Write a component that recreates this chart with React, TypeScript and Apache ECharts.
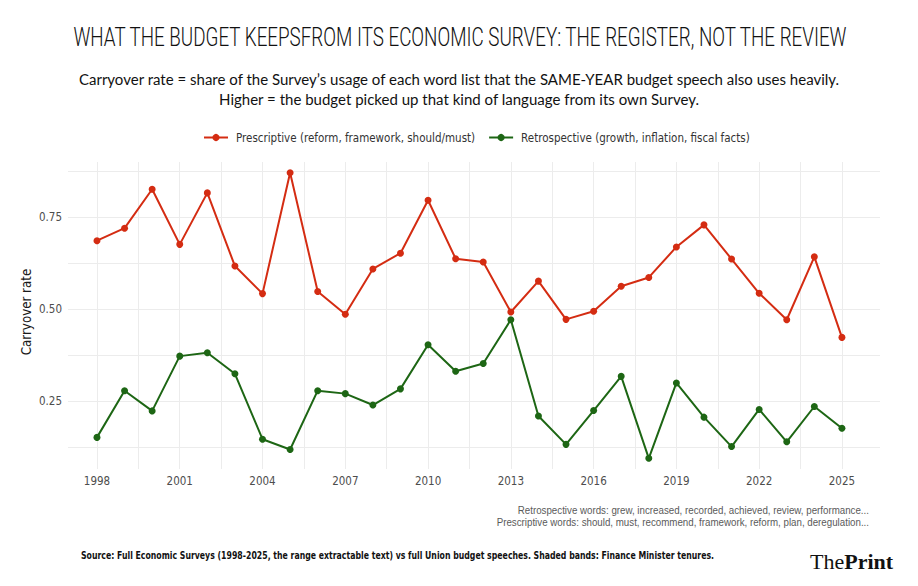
import React, { useEffect, useRef } from 'react'
import * as echarts from 'echarts'

const years = [
  1998, 1999, 2000, 2001, 2002, 2003, 2004, 2005, 2006, 2007, 2008, 2009, 2010, 2011,
  2012, 2013, 2014, 2015, 2016, 2017, 2018, 2019, 2020, 2021, 2022, 2023, 2024, 2025,
]
const prescriptive = [
  0.686, 0.72, 0.826, 0.676, 0.816, 0.617, 0.542, 0.871, 0.548, 0.486, 0.609, 0.652, 0.796, 0.637,
  0.628, 0.492, 0.576, 0.472, 0.494, 0.562, 0.586, 0.669, 0.729, 0.636, 0.543, 0.471, 0.642, 0.423,
]
const retrospective = [
  0.151, 0.278, 0.223, 0.372, 0.381, 0.324, 0.146, 0.118, 0.278, 0.27, 0.239, 0.283, 0.403, 0.331,
  0.352, 0.471, 0.209, 0.132, 0.224, 0.317, 0.094, 0.299, 0.206, 0.126, 0.227, 0.139, 0.235, 0.176,
]
const xLabels = [1998, 2001, 2004, 2007, 2010, 2013, 2016, 2019, 2022, 2025]
const xGrid = [
  1998, 1999.5, 2001, 2002.5, 2004, 2005.5, 2007, 2008.5, 2010, 2011.5, 2013, 2014.5, 2016,
  2017.5, 2019, 2020.5, 2022, 2023.5, 2025,
]
const yLabels = [0.25, 0.5, 0.75]
const yGrid = [0.125, 0.25, 0.375, 0.5, 0.625, 0.75, 0.875]

const NARROW = "'DejaVu Sans Condensed', 'Liberation Sans', sans-serif"

const title = 'WHAT THE BUDGET KEEPSFROM ITS ECONOMIC SURVEY: THE REGISTER, NOT THE REVIEW'
const sub1 =
  'Carryover rate = share of the Survey\u2019s usage of each word list that the SAME-YEAR budget speech also uses heavily.'
const sub2 = 'Higher = the budget picked up that kind of language from its own Survey.'
const yName = 'Carryover rate'
const note1 = 'Retrospective words: grew, increased, recorded, achieved, review, performance...'
const note2 = 'Prescriptive words: should, must, recommend, framework, reform, plan, deregulation...'
const source =
  'Source: Full Economic Surveys (1998-2025, the range extractable text) vs full Union budget speeches. Shaded bands: Finance Minister tenures.'

// squeeze a text to a given width
const fit = (text: string, font: string, width: number) => {
  const ctx = document.createElement('canvas').getContext('2d')
  if (!ctx) return 1
  ctx.font = font
  return width / ctx.measureText(text).width
}

const App: React.FC = () => {
  const chartRef = useRef<HTMLDivElement>(null)

  useEffect(() => {
    if (!chartRef.current) return
    document.body.style.margin = '0'
    const chart = echarts.init(chartRef.current, null, { renderer: 'svg' })

    const titleFont = "300 25px Roboto"
    const subFont = "15px Lato"
    const srcFont = "bold 10px 'DejaVu Sans Condensed'"
    const noteFont = "11px 'Liberation Sans'"
    const titleScale = fit(title, titleFont, 776)
    const subScale = fit(sub1, subFont, 762)
    const srcScale = fit(source, srcFont, 634)
    const noteScale = fit(note1, noteFont, 352)

    const txt = (text: string, x: number, y: number, font: string, fill: string, align: string, scaleX = 1) => ({
      type: 'text',
      x,
      y,
      scaleX,
      style: {
        text,
        font,
        fill,
        textAlign: align,
        align,
        textVerticalAlign: 'middle',
        verticalAlign: 'middle',
      },
    })

    const option = {
      animation: false,
      backgroundColor: '#ffffff',
      grid: { left: 68, right: 38, top: 162, bottom: 117 },
      legend: {
        left: 203,
        top: 131.5,
        padding: 0,
        itemWidth: 24,
        itemHeight: 9,
        itemGap: 13,
        textStyle: { fontFamily: NARROW, fontSize: 11.5, color: '#333333', padding: [0, 0, 0, 3] },
        data: [
          'Prescriptive (reform, framework, should/must)',
          'Retrospective (growth, inflation, fiscal facts)',
        ],
      },
      xAxis: {
        type: 'value',
        min: 1996.95,
        max: 2026.38,
        axisLine: { show: false },
        axisTick: { show: false, customValues: xGrid },
        axisLabel: {
          customValues: xLabels,
          formatter: (v: number) => String(v),
          color: '#4d4d4d',
          fontFamily: NARROW,
          fontSize: 11.5,
          margin: 6,
        },
        splitLine: { show: true, lineStyle: { color: '#ececec', width: 1 } },
      },
      yAxis: {
        type: 'value',
        min: 0.065,
        max: 0.9,
        axisLine: { show: false },
        axisTick: { show: false, customValues: yGrid },
        axisLabel: {
          customValues: yLabels,
          formatter: (v: number) => v.toFixed(2),
          color: '#4d4d4d',
          fontFamily: NARROW,
          fontSize: 11.5,
          margin: 6,
        },
        splitLine: { show: true, lineStyle: { color: '#ececec', width: 1 } },
      },
      series: [
        {
          name: 'Prescriptive (reform, framework, should/must)',
          type: 'line',
          data: years.map((y, i) => [y, prescriptive[i]]),
          symbol: 'circle',
          symbolSize: 7,
          lineStyle: { color: '#d42c12', width: 2 },
          itemStyle: { color: '#d42c12' },
        },
        {
          name: 'Retrospective (growth, inflation, fiscal facts)',
          type: 'line',
          data: years.map((y, i) => [y, retrospective[i]]),
          symbol: 'circle',
          symbolSize: 7,
          lineStyle: { color: '#1d6614', width: 2 },
          itemStyle: { color: '#1d6614' },
        },
      ],
      graphic: [
        txt(title, 460, 37, titleFont, '#111111', 'center', titleScale),
        txt(sub1, 459, 79, subFont, '#111111', 'center', subScale),
        txt(sub2, 459, 99, subFont, '#111111', 'center', subScale),
        { ...txt(yName, 26, 312, `13.2px ${NARROW}`, '#1a1a1a', 'center'), rotation: Math.PI / 2 },
        txt(note1, 869, 510, noteFont, '#5a5a5a', 'right', noteScale),
        txt(note2, 869, 522, noteFont, '#5a5a5a', 'right', noteScale),
        txt(source, 81, 555, srcFont, '#111111', 'left', srcScale),
        {
          type: 'text',
          x: 810,
          y: 561,
          style: {
            text: '{a|The}{b|Print}',
            textVerticalAlign: 'middle',
            verticalAlign: 'middle',
            rich: {
              a: { fontFamily: "'Liberation Serif', serif", fontSize: 22, fill: '#111111', color: '#111111' },
              b: {
                fontFamily: "'Liberation Serif', serif",
                fontSize: 22,
                fontWeight: 'bold',
                fill: '#111111',
                color: '#111111',
              },
            },
          },
        },
      ],
    }

    chart.setOption(option as any)

    return () => {
      chart.dispose()
    }
  }, [])

  return <div ref={chartRef} style={{ width: '918px', height: '586px' }} />
}

export default App
